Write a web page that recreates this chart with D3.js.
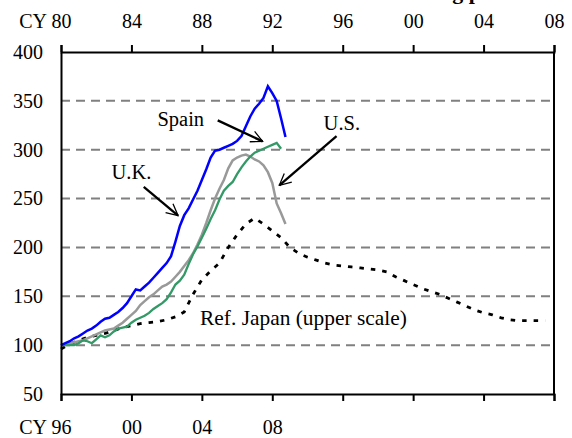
<!DOCTYPE html>
<html>
<head>
<meta charset="utf-8">
<script src="https://cdn.jsdelivr.net/npm/d3@7"></script>
<style>
  body { margin: 0; background: #fff; }
  svg text { font-family: "Liberation Serif", "Times New Roman", serif; fill: #000; }
</style>
</head>
<body>
<div id="chart"></div>
<script>
// quarters for the lower scale (CY 96 ...)
var quarters = [];
for (var q = 0; q < 52; q++) quarters.push(1996 + q * 0.25);

// house price indices, 1996 = 100
var ukValues = [100,102,104,107, 109,112,115,117, 120,124,127,128, 131,134,138,143,
                150,157,156,160, 164,169,174,179, 184,191,206,222, 233,240,249,258,
                269,280,292,299, 300,302,304,306, 309,314,324,334, 342,347,353,365,
                358,350,332,313];
var usValues = [100,101,102,103, 104,105,107,109, 111,113,115,116, 117,120,123,127,
                131,135,141,145, 149,152,156,160, 162,165,170,175, 181,187,194,203,
                213,225,238,250, 260,269,281,289, 292,294,295,293, 290,288,284,277,
                266,245,235,224];
var spainValues = [100,100,100,100, 102,105,104,102, 106,110,108,110, 114,117,118,119,
                123,126,128,130, 133,137,140,143, 147,154,162,166, 172,183,193,201,
                210,219,229,238, 249,258,263,267, 275,282,288,293, 297,299,301,303,
                305,307,301,null];

// Japan land prices, upper scale (CY 80 ...), 1980 = 100
var japanYears = [];
for (var h = 0; h < 56; h++) japanYears.push(1980 + h * 0.5);
var japanValues = [96,101,105,108,110,112,115,118,120,122,123,124,126,129,134,152,
                   167,176,184,200,213,224,230,224,217,210,200,194,190,187,184,182,
                   181,180,179,178,177,175,170,166,162,158,155,152,148,144,140,136,
                   133,131,128,126,125,125,125,125];

var upperTicks = [1980,1984,1988,1992,1996,2000,2004,2008];
var lowerTicks = [1996,2000,2004,2008,2012,2016,2020,2024];
var lowerLabelled = [1996,2000,2004,2008];
var yTicks = [50,100,150,200,250,300,350,400];
var gridValues = [100,150,200,250,300,350];

var labels = [
  {text: "Spain", x: 2002.8, y: 324, anchor: "middle", size: 20.5},
  {text: "U.K.", x: 2000.0, y: 270, anchor: "middle", size: 20.5},
  {text: "U.S.", x: 2011.95, y: 320, anchor: "middle", size: 20.5},
  {text: "Ref. Japan (upper scale)", x: 2003.9, y: 120.5, anchor: "start", size: 21.4}
];
var arrows = [
  {from: [2004.9, 330], to: [2007.45, 308.5]},
  {from: [2000.7, 262], to: [2002.65, 232.5]},
  {from: [2011.65, 314], to: [2008.4, 263.5]}
];

var fontFamily = "'Liberation Serif', 'Times New Roman', serif";

var margin = {top: 52, right: 18, bottom: 44, left: 61},
    width = 572 - margin.left - margin.right,
    height = 438 - margin.top - margin.bottom;

var svg = d3.select("#chart")
  .append("svg")
    .attr("width", 572)
    .attr("height", 438);

// title, cut off by the top edge as in the source slide
svg.append("text")
  .attr("x", 385).attr("y", -1)
  .style("font-size", "22px").style("font-weight", "bold")
  .text("Housing prices");

var g = svg.append("g")
  .attr("transform", "translate(" + margin.left + "," + margin.top + ")");

var xLow = d3.scaleLinear().domain([1996, 2024]).range([0, width]);
var xUp = d3.scaleLinear().domain([1980, 2008]).range([0, width]);
var y = d3.scaleLinear().domain([50, 400]).range([height, 0]);

function yy(d) { return String(d % 100).padStart(2, "0"); }

// gridlines
g.append("g").selectAll("line")
  .data(gridValues)
  .enter().append("line")
    .attr("x1", 0).attr("x2", width)
    .attr("y1", function(d) { return y(d); })
    .attr("y2", function(d) { return y(d); })
    .attr("stroke", "#808080")
    .attr("stroke-width", 2)
    .attr("stroke-dasharray", "9,6");

// series
var line = d3.line()
  .defined(function(d) { return d[1] != null; })
  .x(function(d) { return xLow(d[0]); })
  .y(function(d) { return y(d[1]); });

function pairs(xs, vs) { return xs.map(function(x, i) { return [x, vs[i]]; }); }

g.append("path")
  .attr("d", d3.line().x(function(d) { return xUp(d[0]); }).y(function(d) { return y(d[1]); })(pairs(japanYears, japanValues)))
  .attr("fill", "none").attr("stroke", "#000")
  .attr("stroke-width", 2.8).attr("stroke-dasharray", "4.5,7");

g.append("path").attr("d", line(pairs(quarters, usValues)))
  .attr("fill", "none").attr("stroke", "#999999").attr("stroke-width", 2.5);
g.append("path").attr("d", line(pairs(quarters, spainValues)))
  .attr("fill", "none").attr("stroke", "#339966").attr("stroke-width", 2.3);
g.append("path").attr("d", line(pairs(quarters, ukValues)))
  .attr("fill", "none").attr("stroke", "#0000ff").attr("stroke-width", 2.5);

// axes
var topAxis = g.append("g")
  .call(d3.axisTop(xUp).tickValues(upperTicks).tickSize(7).tickPadding(17).tickFormat(yy));
var bottomAxis = g.append("g")
  .attr("transform", "translate(0," + height + ")")
  .call(d3.axisBottom(xLow).tickValues(lowerTicks).tickSize(7).tickPadding(19)
    .tickFormat(function(d) { return lowerLabelled.indexOf(d) >= 0 ? yy(d) : ""; }));
var leftAxis = g.append("g")
  .call(d3.axisLeft(y).tickValues(yTicks).tickSize(0).tickPadding(18));
g.append("line")
  .attr("x1", width).attr("x2", width).attr("y1", 0).attr("y2", height)
  .attr("stroke", "#000").attr("stroke-width", 2);

[topAxis, bottomAxis, leftAxis].forEach(function(a) {
  a.attr("font-family", null).attr("font-size", null);
  a.selectAll("path, line").attr("stroke", "#000").attr("stroke-width", 2);
  a.selectAll("text").style("font-size", "20px").style("font-family", fontFamily);
});

// "CY" prefixes
g.append("text").attr("x", -14).attr("y", -24).attr("text-anchor", "end")
  .style("font-size", "20px").text("CY");
g.append("text").attr("x", -14).attr("y", height + 40).attr("text-anchor", "end")
  .style("font-size", "20px").text("CY");

// annotations
g.selectAll(".lbl")
  .data(labels)
  .enter().append("text")
    .attr("class", "lbl")
    .attr("x", function(d) { return xLow(d.x); })
    .attr("y", function(d) { return y(d.y); })
    .attr("text-anchor", function(d) { return d.anchor; })
    .style("font-size", function(d) { return d.size + "px"; })
    .text(function(d) { return d.text; });

svg.append("defs").append("marker")
  .attr("id", "head")
  .attr("viewBox", "0 0 12 12")
  .attr("refX", 11).attr("refY", 6)
  .attr("markerWidth", 6).attr("markerHeight", 6)
  .attr("orient", "auto")
  .append("path")
    .attr("d", "M1,1 L11,6 L1,11")
    .attr("fill", "none").attr("stroke", "#000").attr("stroke-width", 1.1);

g.selectAll(".arrow")
  .data(arrows)
  .enter().append("line")
    .attr("class", "arrow")
    .attr("x1", function(d) { return xLow(d.from[0]); })
    .attr("y1", function(d) { return y(d.from[1]); })
    .attr("x2", function(d) { return xLow(d.to[0]); })
    .attr("y2", function(d) { return y(d.to[1]); })
    .attr("stroke", "#000").attr("stroke-width", 2.3)
    .attr("marker-end", "url(#head)");
</script>
</body>
</html>
